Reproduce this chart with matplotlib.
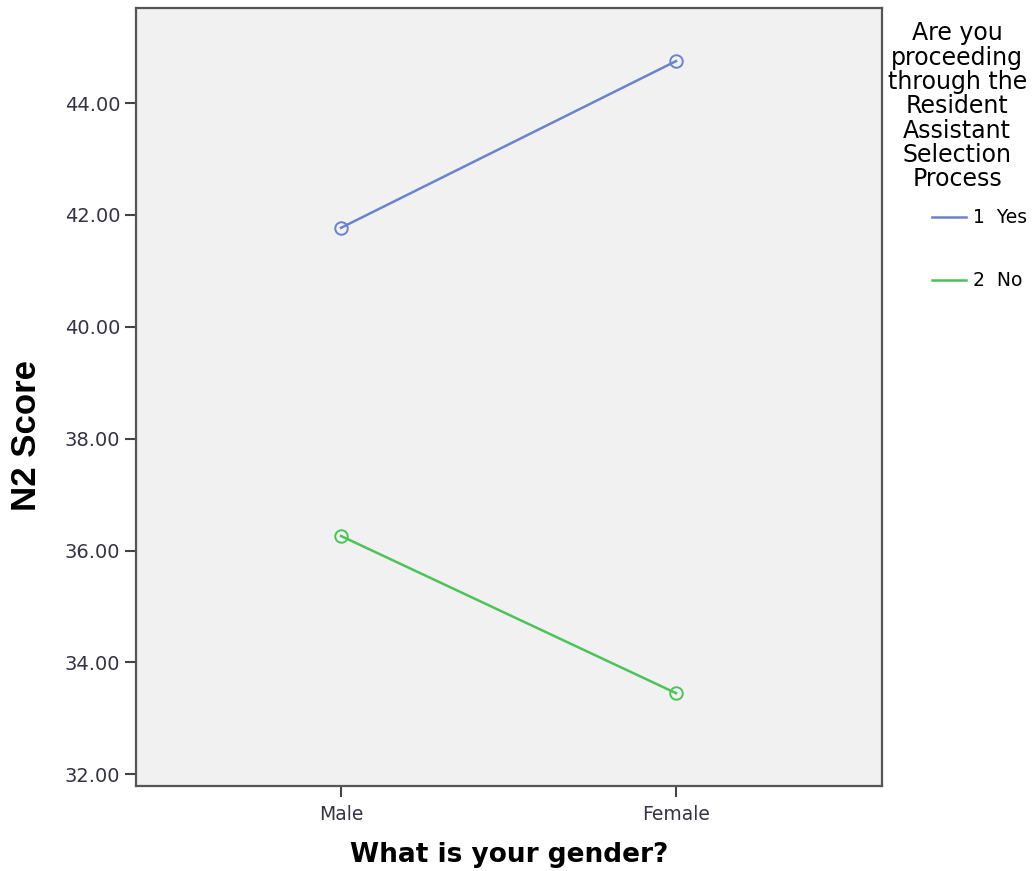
import matplotlib.pyplot as plt
from matplotlib.lines import Line2D

# data
genders = ["Male", "Female"]
yes_scores = [41.77, 44.75]
no_scores = [36.26, 33.45]
series_labels = ["1  Yes", "2  No"]
yticks = [32, 34, 36, 38, 40, 42, 44]

blue = "#6b83cc"
green = "#4cc35a"

fig = plt.figure(figsize=(10.33, 8.71), dpi=100)
ax = fig.add_axes([0.1317, 0.0976, 0.7221, 0.8932])
ax.set_facecolor("#f1f1f1")

x = list(range(len(genders)))
ax.plot(x, yes_scores, color=blue, lw=1.8, marker="o", ms=9, mfc="none", mec=blue, mew=1.4)
ax.plot(x, no_scores, color=green, lw=1.8, marker="o", ms=9, mfc="none", mec=green, mew=1.4)

ax.set_xlim(-0.612, 1.615)
ax.set_ylim(31.79, 45.70)
ax.set_xticks(x)
ax.set_xticklabels(genders, fontsize=13.5, color="#333344")
ax.set_yticks(yticks)
ax.set_yticklabels([f"{v:.2f}" for v in yticks], fontsize=14, color="#333344")
ax.tick_params(axis="both", length=8, width=1.5, color="#444444")
ax.tick_params(axis="x", pad=6)

for s in ax.spines.values():
    s.set_linewidth(1.6)
    s.set_color("#555555")

ax.set_ylabel("N2 Score", fontsize=25, fontweight="bold", family="Liberation Sans")
ax.yaxis.set_label_coords(-0.125, 0.451)
ax.set_xlabel("What is your gender?", fontsize=19, fontweight="bold")
ax.xaxis.set_label_coords(0.5, -0.072)

handles = [Line2D([], [], color=blue, lw=1.8), Line2D([], [], color=green, lw=1.8)]
leg = ax.legend(handles, series_labels,
                title="Are you\nproceeding\nthrough the\nResident\nAssistant\nSelection\nProcess",
                loc="upper left", bbox_to_anchor=(0.99, 1.0), frameon=False,
                fontsize=13.5, title_fontsize=17, alignment="right",
                handlelength=1.8, handletextpad=0.35, labelspacing=2.35,
                borderaxespad=0.3)
leg.get_title().set_multialignment("center")
leg.get_title().set_linespacing(1.02)
leg._legend_box.sep = 12  # tighter gap between title and entries

fig.savefig("out.png", dpi=100)
